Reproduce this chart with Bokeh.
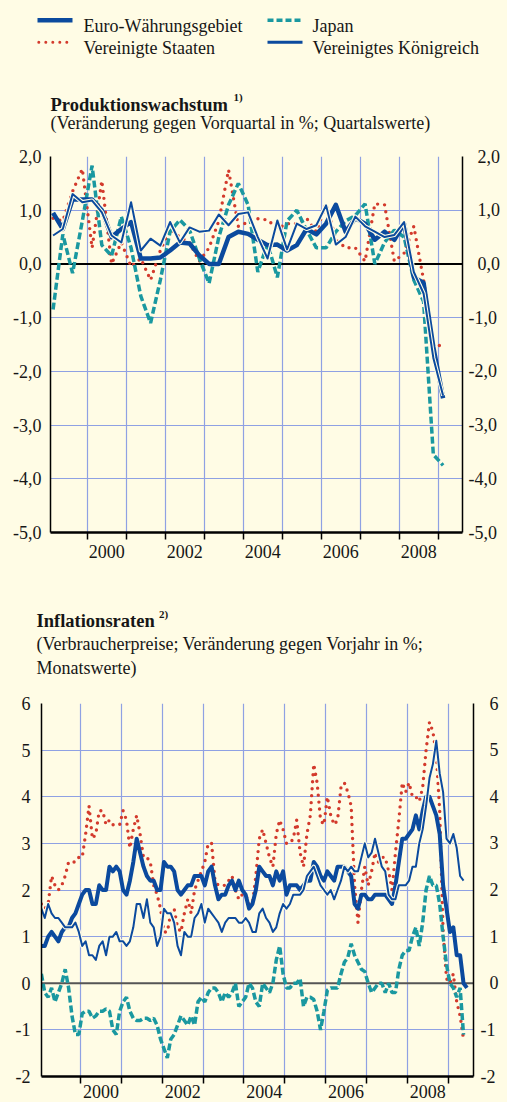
from bokeh.plotting import figure
from bokeh.layouts import column
from bokeh.models import Range1d, LinearAxis, FixedTicker, Grid, Span
from bokeh.embed import file_html
from bokeh.resources import INLINE
from bokeh.core.properties import value

# ---------------- data ----------------
series_names = ["Euro-Währungsgebiet", "Vereinigte Staaten", "Japan", "Vereinigtes Königreich"]

# Produktionswachstum, quarterly, 1999Q1 .. 2009Q1
gdp_start_year = 1999
gdp_euro = [0.95, 0.65, 1.2, 1.2,
            1.2, 1.0, 0.5, 0.65,
            0.78, 0.1, 0.1, 0.12,
            0.25, 0.4, 0.38, 0.16,
            0.0, 0.0, 0.5, 0.6,
            0.56, 0.45, 0.35, 0.36,
            0.25, 0.35, 0.65, 0.55,
            0.75, 1.1, 0.6, 0.85,
            0.75, 0.45, 0.6, 0.45,
            0.75, -0.25, -0.35, -1.55,
            -2.5]
gdp_us = [0.85, 0.8, 1.35, 1.77,
          0.3, 1.55, 0.0, 0.4,
          -0.05, 0.1, -0.3, 0.25,
          0.65, 0.5, 0.4, 0.05,
          0.3, 0.8, 1.75, 0.7,
          0.78, 0.84, 0.82, 0.66,
          0.75, 0.75, 0.85, 0.6,
          1.12, 0.45, 0.3, 0.3,
          0.05, 1.12, 1.1, 0.05,
          0.2, 0.7, -0.3, -1.6,
          -1.47]
gdp_japan = [-0.85, 0.55, -0.17, 0.8,
             1.83, 0.35, 0.15, 0.88,
             0.3, -0.6, -1.1, -0.3,
             0.6, 0.82, 0.63, 0.1,
             -0.36, 0.5, 1.1, 1.5,
             1.1, -0.15, 0.38, -0.25,
             0.8, 1.0, 0.63, 0.3,
             0.3, 0.6, 0.8, 0.9,
             1.12, 0.0, 0.4, 0.63,
             0.5, -0.3, -0.7, -3.55,
             -3.75]
gdp_uk = [0.53, 0.65, 1.3, 1.15,
          1.18, 0.96, 0.53, 0.4,
          1.15, 0.25, 0.47, 0.34,
          0.78, 0.4, 0.68, 0.6,
          0.62, 0.92, 0.72, 0.93,
          0.96, 0.5, 0.1, 0.81,
          0.27, 0.75, 0.65, 0.72,
          1.09, 0.36, 0.5, 0.88,
          0.7, 0.6, 0.5, 0.54,
          0.78, -0.15, -0.55, -1.75,
          -2.45]
gdp_ticks = [-5, -4, -3, -2, -1, 0, 1, 2]
gdp_tick_labels = ["-5,0", "-4,0", "-3,0", "-2,0", "-1,0", "0,0", "1,0", "2,0"]

# Inflationsraten, monthly from Jan 1999
cpi_start_year = 1999
cpi_euro = [0.8, 0.8, 1.0, 1.1, 1.0, 0.9, 1.1, 1.2, 1.2, 1.4, 1.5, 1.7,
            1.9, 2.0, 2.0, 1.7, 1.7, 2.1, 2.0, 2.0, 2.5, 2.4, 2.5, 2.4,
            2.0, 1.9, 2.2, 2.6, 3.1, 2.8, 2.5, 2.3, 2.2, 2.2, 2.0, 2.0,
            2.6, 2.5, 2.5, 2.4, 2.0, 1.9, 2.0, 2.1, 2.1, 2.3, 2.3, 2.3,
            2.1, 2.4, 2.5, 2.1, 1.8, 1.9, 1.9, 2.1, 2.2, 2.0, 2.2, 2.0,
            1.9, 1.6, 1.7, 2.0, 2.5, 2.4, 2.3, 2.3, 2.1, 2.4, 2.2, 2.4,
            1.9, 2.1, 2.1, 2.1, 2.0, 2.1, 2.2, 2.2, 2.6, 2.5, 2.3, 2.2,
            2.4, 2.3, 2.2, 2.5, 2.5, 2.5, 2.4, 2.3, 1.7, 1.6, 1.9, 1.9,
            1.8, 1.8, 1.9, 1.9, 1.9, 1.9, 1.8, 1.7, 2.1, 2.6, 3.1, 3.1,
            3.2, 3.3, 3.6, 3.3, 3.7, 4.0, 4.0, 3.8, 3.6, 3.2, 2.1, 1.6,
            1.1, 1.2, 0.6, 0.6, 0.0, -0.1]
cpi_us = [1.7, 1.6, 1.7, 2.3, 2.1, 2.0, 2.1, 2.3, 2.6, 2.6, 2.6, 2.7,
          2.7, 3.2, 3.8, 3.1, 3.2, 3.7, 3.7, 3.4, 3.5, 3.4, 3.4, 3.4,
          3.7, 3.5, 2.9, 3.3, 3.6, 3.2, 2.7, 2.7, 2.6, 2.1, 1.9, 1.6,
          1.1, 1.1, 1.5, 1.6, 1.2, 1.1, 1.5, 1.8, 1.5, 2.0, 2.2, 2.4,
          2.6, 3.0, 3.0, 2.2, 2.1, 2.1, 2.1, 2.2, 2.3, 2.0, 1.8, 1.9,
          1.9, 1.7, 1.7, 2.3, 3.1, 3.3, 3.0, 2.7, 2.5, 3.2, 3.5, 3.3,
          3.0, 3.0, 3.1, 3.5, 2.8, 2.5, 3.2, 3.6, 4.7, 4.3, 3.5, 3.4,
          4.0, 3.6, 3.4, 3.5, 4.2, 4.3, 4.1, 3.8, 2.1, 1.3, 2.0, 2.5,
          2.1, 2.4, 2.8, 2.6, 2.7, 2.7, 2.4, 2.0, 2.8, 3.5, 4.3, 4.1,
          4.3, 4.0, 4.0, 3.9, 4.2, 5.0, 5.6, 5.4, 4.9, 3.7, 1.1, 0.1,
          0.0, 0.2, -0.4, -0.7, -1.2]
cpi_japan = [0.2, -0.2, -0.3, -0.1, -0.4, -0.2, 0.0, 0.3, -0.1, -0.7, -1.1, -1.1,
             -0.65, -0.6, -0.6, -0.75, -0.7, -0.6, -0.6, -0.55, -0.6, -1.0, -1.1, -0.6,
             -0.4, -0.3, -0.6, -0.75, -0.8, -0.8, -0.75, -0.75, -0.8, -0.75, -0.9, -1.2,
             -1.4, -1.6, -1.2, -1.1, -0.9, -0.7, -0.8, -0.9, -0.7, -0.9, -0.4, -0.3,
             -0.4, -0.2, -0.1, -0.1, -0.2, -0.4, -0.2, -0.3, -0.2, 0.0, -0.5, -0.4,
             -0.3, 0.0, -0.1, -0.4, -0.5, 0.0, -0.1, -0.2, 0.0, 0.5, 0.8, 0.2,
             -0.1, -0.1, 0.0, 0.0, 0.1, -0.5, -0.3, -0.3, -0.35, -0.6, -1.0, -0.6,
             -0.15, -0.1, -0.1, -0.1, 0.2, 0.45, 0.55, 0.85, 0.6, 0.45, 0.3, 0.25,
             0.0, -0.2, -0.1, 0.0, 0.0, -0.2, 0.0, -0.2, -0.2, 0.3, 0.6, 0.7,
             0.7, 1.0, 1.2, 0.8, 1.3, 2.0, 2.3, 2.1, 2.1, 1.7, 1.0, 0.4,
             0.0, -0.1, -0.3, -0.1, -1.1]
cpi_uk = [1.6, 1.4, 1.7, 1.5, 1.4, 1.4, 1.3, 1.2, 1.2, 1.2, 1.3, 1.1,
          0.8, 0.9, 0.6, 0.6, 0.5, 0.8, 0.9, 0.6, 1.0, 1.0, 1.1, 0.9,
          0.9, 0.8, 0.9, 1.2, 1.7, 1.7, 1.4, 1.8, 1.3, 1.2, 0.8, 1.0,
          1.6, 1.5, 1.5, 1.3, 0.8, 0.6, 1.1, 1.0, 1.0, 1.4, 1.5, 1.7,
          1.3, 1.6, 1.5, 1.4, 1.3, 1.1, 1.3, 1.4, 1.4, 1.4, 1.3, 1.3,
          1.4, 1.3, 1.1, 1.1, 1.5, 1.6, 1.4, 1.3, 1.1, 1.2, 1.5, 1.7,
          1.6, 1.7, 1.9, 1.9, 1.9, 2.0, 2.3, 2.4, 2.5, 2.3, 2.1, 2.0,
          1.9, 2.0, 1.8, 2.0, 2.2, 2.5, 2.4, 2.5, 2.4, 2.4, 2.7, 3.0,
          2.7, 2.8, 3.1, 2.8, 2.5, 2.4, 1.9, 1.8, 1.8, 2.1, 2.1, 2.1,
          2.2, 2.5, 2.5, 3.0, 3.3, 3.8, 4.4, 4.7, 5.2, 4.5, 4.1, 3.1,
          3.0, 3.2, 2.9, 2.3, 2.2]
cpi_ticks = [-2, -1, 0, 1, 2, 3, 4, 5, 6]
cpi_tick_labels = ["-2", "-1", "0", "1", "2", "3", "4", "5", "6"]

year_labels = ["2000", "2002", "2004", "2006", "2008"]
year_bounds = list(range(2000, 2010))

# ---------------- style ----------------
BG = "#FFFCE5"
BLUE = "#0B4A9E"
RED = "#D33A2C"
TEAL = "#1A98A0"
GRID = "#8FA1E3"
TXT = "#161616"
FONT = "Liberation Serif"
W = 507
FSP = "\u2007"


def quarter_x(n):
    return [gdp_start_year + (k + 0.5) / 4 for k in range(n)]


def month_x(n):
    return [cpi_start_year + (i + 0.5) / 12 for i in range(n)]


def header(y0, y1):
    p = figure(width=W, height=y1 - y0, x_range=Range1d(0, W), y_range=Range1d(y1, y0),
               toolbar_location=None, output_backend="svg", x_axis_type=None, y_axis_type=None,
               min_border=0)
    p.frame_align = False
    p.outline_line_color = None
    p.background_fill_color = BG
    p.border_fill_color = BG
    return p


def txt(p, x, y, s, size="18px", style="normal"):
    p.text(x=[x], y=[y], text=[s], text_font=value(FONT), text_font_size=size,
           text_font_style=style, text_color=TXT, text_baseline="alphabetic", text_align="left")


def chart(xr, yr, fw, fh, bl, br, bt, bb, ticks, labels, lstand, rstand, xstand, zero_color):
    p = figure(frame_width=fw, frame_height=fh, x_range=Range1d(*xr), y_range=Range1d(*yr),
               min_border_left=bl, min_border_right=br, min_border_top=bt, min_border_bottom=bb,
               toolbar_location=None, output_backend="svg", x_axis_type=None, y_axis_type=None)
    p.frame_align = False
    p.outline_line_color = None
    p.background_fill_color = BG
    p.border_fill_color = BG
    p.add_layout(Grid(dimension=0, ticker=FixedTicker(ticks=year_bounds),
                      grid_line_color=GRID, grid_line_width=1.2))
    p.add_layout(Grid(dimension=1, ticker=FixedTicker(ticks=ticks),
                      grid_line_color=GRID, grid_line_width=1.2))
    p.add_layout(Span(location=0, dimension="width", line_color=zero_color, line_width=2,
                      level="underlay"))
    common = dict(axis_line_color="black", axis_line_width=1.5, major_tick_out=0, major_tick_in=0,
                  minor_tick_out=0, minor_tick_in=0, major_label_text_font=FONT,
                  major_label_text_font_size="18px", major_label_text_color=TXT)
    la = LinearAxis(ticker=FixedTicker(ticks=ticks), major_label_overrides=dict(zip(ticks, labels)),
                    major_label_standoff=lstand, **common)
    rlabels = [l if l.startswith("-") else FSP + l for l in labels]
    ra = LinearAxis(ticker=FixedTicker(ticks=ticks), major_label_overrides=dict(zip(ticks, rlabels)),
                    major_label_standoff=rstand, **common)
    p.add_layout(la, "left")
    p.add_layout(ra, "right")
    mids = [int(y) + 0.5 for y in year_labels]
    xa = LinearAxis(ticker=FixedTicker(ticks=mids, minor_ticks=year_bounds),
                    major_label_overrides=dict(zip(mids, year_labels)),
                    axis_line_color="black", axis_line_width=2.5, major_tick_out=0, major_tick_in=0,
                    minor_tick_out=7, minor_tick_in=0, minor_tick_line_color="black",
                    minor_tick_line_width=1.5, major_label_text_font=FONT,
                    major_label_text_font_size="18px", major_label_text_color=TXT,
                    major_label_standoff=xstand)
    p.add_layout(xa, "below")
    return p


def draw(p, x_e, e, x_u, u, x_j, j, x_k, k, ew):
    p.line(x_u, u, line_color=RED, line_width=3.4, line_dash="0 7", line_cap="round")
    p.line(x_j, j, line_color=TEAL, line_width=3.5, line_dash="7 3")
    p.line(x_e, e, line_color=BLUE, line_width=ew, line_join="round")
    p.line(x_k, k, line_color=BG, line_width=4.2, line_join="round")
    p.line(x_k, k, line_color=BLUE, line_width=2, line_join="round")


# ---------------- header 1 ----------------
h1 = header(0, 146)
h1.line([37, 72], [19.7, 19.7], line_color=BLUE, line_width=4.5)
h1.line([38.3, 70], [41.7, 41.7], line_color=RED, line_width=3, line_dash="0 7", line_cap="round")
h1.line([267, 302], [19.7, 19.7], line_color=TEAL, line_width=3.5, line_dash="6 3")
h1.line([267, 302], [41.7, 41.7], line_color=BLUE, line_width=3)
txt(h1, 83, 25, series_names[0])
txt(h1, 83, 47, series_names[1])
txt(h1, 312, 25, series_names[2])
txt(h1, 312, 47, series_names[3])
txt(h1, 50, 104, "Produktionswachstum", size="18.5px", style="bold")
txt(h1, 233, 96, "1)", size="11px", style="bold")
txt(h1, 50, 122, "(Veränderung gegen Vorquartal in %; Quartalswerte)")

# ---------------- chart 1 ----------------
p1 = chart((1999.059, 2009.623), (-5, 2), 412, 376, 50, 45, 10, 28,
           gdp_ticks, gdp_tick_labels, 9, 6, 5, "black")
xq = quarter_x(len(gdp_euro))
draw(p1, xq, gdp_euro, xq, gdp_us, xq, gdp_japan, xq, gdp_uk, 4.5)

# ---------------- header 2 ----------------
h2 = header(560, 689)
txt(h2, 36, 620.7, "Inflationsraten", size="18.5px", style="bold")
txt(h2, 158.5, 613, "2)", size="11px", style="bold")
txt(h2, 36, 643.3, "(Verbraucherpreise; Veränderung gegen Vorjahr in %;")
txt(h2, 36, 667.3, "Monatswerte)")

# ---------------- chart 2 ----------------
p2 = chart((1999.045, 2009.619), (-2, 6), 432, 373, 41, 34, 14, 26,
           cpi_ticks, cpi_tick_labels, 11, 7, 1, "#555555")
draw(p2, month_x(len(cpi_euro)), cpi_euro, month_x(len(cpi_us)), cpi_us,
     month_x(len(cpi_japan)), cpi_japan, month_x(len(cpi_uk)), cpi_uk, 4)

layout = column(h1, p1, h2, p2, spacing=0)
html = file_html(layout, INLINE)
html = html.replace("</head>", "<style>html,body{background:%s;overflow:hidden}</style></head>" % BG, 1)
open("out.html", "w").write(html)
